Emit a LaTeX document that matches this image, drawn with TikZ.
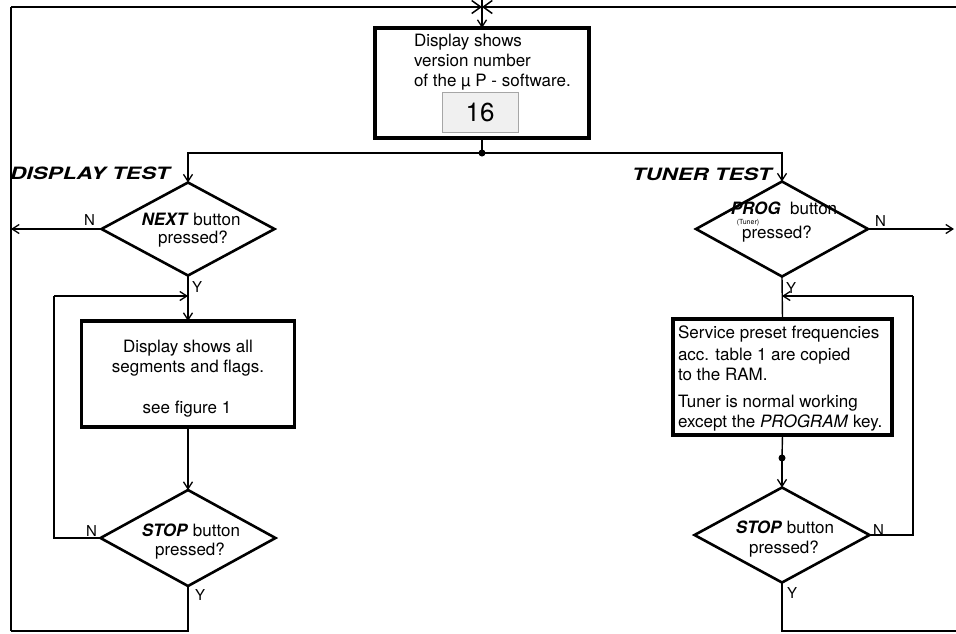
\documentclass[tikz,border=0pt]{standalone}
\usepackage{graphicx}
\usepackage{fontspec}
\setmainfont{TeX Gyre Heros}
\usetikzlibrary{shapes.geometric,arrows.meta}
\begin{document}
\begin{tikzpicture}[x=1pt,y=-1pt,
  every node/.style={inner sep=0pt, outer sep=0pt},
  txt/.style={font=\fontsize{17}{20}\selectfont, anchor=base},
  txtl/.style={font=\fontsize{17}{20}\selectfont, anchor=base west},
  yn/.style={font=\fontsize{15}{18}\selectfont, anchor=base west},
  head/.style={font=\fontsize{17}{20}\selectfont\bfseries\itshape, anchor=base west},
  procbox/.style={draw, line width=3.5pt},
  decision/.style={draw, diamond, line width=2.6pt},
  conn/.style={line width=1.4pt},
  arr/.style={conn, -{Straight Barb[length=7pt,width=9pt,line width=1.3pt]}},
  arrT/.style={line width=2.8pt, -{Straight Barb[length=9pt,width=13pt,line width=1.5pt]}},
  split/.style={line width=2.6pt},
  dotc/.style={fill=black}
]
\useasboundingbox[fill=white] (0,0) rectangle (956,633);

% ---------- nodes ----------
\node[procbox, minimum width=214, minimum height=110] (tb) at (482,83) {};
\node[draw=gray!70, line width=0.6pt, fill=gray!12, minimum width=76, minimum height=40,
      font=\fontsize{26}{26}\selectfont] (ver) at (480,112) {16};

\node[decision, minimum width=173, minimum height=93] (d1) at (188,229) {};
\node[procbox, minimum width=213, minimum height=106] (b1) at (188,374) {};
\node[decision, minimum width=175, minimum height=96] (d2) at (188,538) {};

\node[decision, minimum width=172, minimum height=95] (d3) at (782,229) {};
\node[procbox, minimum width=219, minimum height=116] (b2) at (782.5,377) {};
\node[decision, minimum width=175, minimum height=95] (d4) at (782,535) {};

% ---------- texts ----------
\node[txtl] (tb1) at (414,46) {Display shows};
\node[txtl] (tb2) at (414,66) {version number};
\node[txtl] (tb3) at (414,86) {of the µ P - software.};

\node[head] (h1) at (10,179) {\scalebox{1.33}[1]{DISPLAY TEST}};
\node[head] (h2) at (632,180) {\scalebox{1.31}[1]{TUNER TEST}};

\node[txt] (d1a) at (191,225) {\textbf{\textit{NEXT}} button};
\node[txt] (d1b) at (193,243) {pressed?};

\node[txt] (b1a) at (188,352) {Display shows all};
\node[txt] (b1b) at (188,372) {segments and flags.};
\node[txt] (b1c) at (187,413) {see figure 1};

\node[txt] (d2a) at (191,536) {\textbf{\textit{STOP}} button};
\node[txt] (d2b) at (190,555) {pressed?};

\node[txt] (d3a) at (784,214) {\textbf{\textit{PROG}}\ \ button};
\node[font=\fontsize{7}{8}\selectfont, anchor=base] (d3b) at (748,224.5) {(Tuner)};
\node[txt] (d3c) at (777,238) {pressed?};

\node[txtl] (b2a) at (678,338) {Service preset frequencies};
\node[txtl] (b2b) at (678,360) {acc. table 1 are copied};
\node[txtl] (b2c) at (678,380) {to the RAM.};
\node[txtl] (b2d) at (678,407) {Tuner is normal working};
\node[txtl] (b2e) at (678,427) {except the \textit{PROGRAM} key.};

\node[txt] (d4a) at (785,533) {\textbf{\textit{STOP}} button};
\node[txt] (d4b) at (784,553) {pressed?};

% Y / N labels
\node[yn] (n1) at (84,225) {N};
\node[yn] (y1) at (192,292) {Y};
\node[yn] (n2) at (86,536) {N};
\node[yn] (y2) at (195,600) {Y};
\node[yn] (n3) at (875,226) {N};
\node[yn] (y3) at (786,293) {Y};
\node[yn] (n4) at (873,535) {N};
\node[yn] (y4) at (787,598) {Y};

% ---------- coordinates ----------
\coordinate (top) at (482,0);
\coordinate (J0) at (482,7);
\coordinate (LT) at (11,7);
\coordinate (RT) at (956,7);
\coordinate (LB) at (11,631);
\coordinate (RB) at (956,631);
\coordinate (S) at (482,153);
\coordinate (LN) at (11,229);
\coordinate (RN) at (954,229);
\coordinate (j1) at (188,296);
\coordinate (L1) at (54,296);
\coordinate (j3) at (782,296);
\coordinate (R1) at (913,296);
\coordinate (dot2) at (782,458);

% ---------- connectors ----------
\draw[line width=2pt] (LB) -- (LT);
\draw[arrT] (LT) -- (J0);
\draw[arrT] (RT) -- (J0);
\draw[conn] (top) -- (J0);
\draw[arr] (J0) -- (tb.north);

\draw[split] (tb.south) -- (S);
\fill[dotc] (S) circle[radius=3.5pt];
\draw[split, -{Straight Barb[length=7pt,width=9pt,line width=1.3pt]}] (S) -| (d1.north);
\draw[split, -{Straight Barb[length=7pt,width=9pt,line width=1.3pt]}] (S) -| (d3.north);

\draw[arr] (d1.west) -- (LN);
\draw[arr] (d1.south) -- (b1.north);
\draw[conn] (d2.west) -| (L1);
\draw[arr] (L1) -- (j1);
\draw[arr] (b1.south) -- (d2.north);
\draw[conn] (d2.south) |- (LB);

\draw[arr] (d3.east) -- (RN);
\draw[conn] (d3.south) -- (b2.north);
\draw[conn] (d4.east) -| (R1);
\draw[arr] (R1) -- (j3);
\draw[conn] (b2.south) -- (dot2);
\fill[dotc] (dot2) circle[radius=3.5pt];
\draw[arr] (dot2) -- (d4.north);
\draw[conn] (d4.south) |- (RB);
\end{tikzpicture}
\end{document}
